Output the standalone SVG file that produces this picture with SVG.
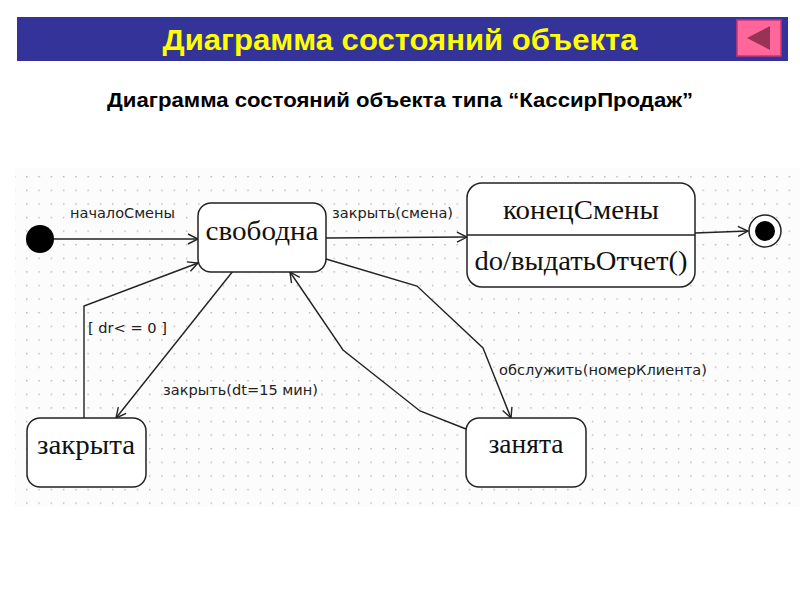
<svg xmlns="http://www.w3.org/2000/svg" width="800" height="600" viewBox="0 0 800 600">
  <defs>
    <pattern id="dots" x="26" y="176" width="12.3" height="13.6" patternUnits="userSpaceOnUse">
      <rect x="0" y="0" width="1.4" height="1.4" fill="#b4b4b4"/>
    </pattern>
    <marker id="arr" viewBox="0 0 12 12" refX="11" refY="6" markerWidth="12" markerHeight="12" markerUnits="userSpaceOnUse" orient="auto">
      <path d="M1,1 L11,6 L1,11" fill="none" stroke="#222" stroke-width="1.4"/>
    </marker>
    <style>
      .bar { fill: #333399; }
      .title { font-family: "Liberation Sans", Arial, sans-serif; font-weight: bold; font-size: 30px; fill: #ffff00; text-anchor: middle; }
      .sub { font-family: "Liberation Sans", Arial, sans-serif; font-weight: bold; font-size: 21px; fill: #000; text-anchor: middle; }
      .state { fill: #fff; stroke: #222; stroke-width: 1.5; }
      .sname { font-family: "Liberation Serif", "Times New Roman", serif; font-size: 28px; fill: #111; text-anchor: middle; }
      .lbl { font-family: "DejaVu Sans", "Liberation Sans", sans-serif; font-size: 14px; fill: #222; }
      .edge { fill: none; stroke: #222; stroke-width: 1.4; }
    </style>
  </defs>

  <rect x="0" y="0" width="800" height="600" fill="#fff"/>

  <!-- header -->
  <g id="header">
    <rect class="bar" x="17" y="17" width="771" height="44"/>
    <text class="title" x="400" y="50" textLength="475" lengthAdjust="spacingAndGlyphs">Диаграмма состояний объекта</text>
    <g id="back-button">
      <rect x="737" y="20" width="44" height="36" fill="#ff6699" stroke="#cc3377" stroke-width="1.5"/>
      <polygon points="747,38 770,26 770,50" fill="#993355"/>
    </g>
  </g>

  <text class="sub" x="400" y="107" textLength="586" lengthAdjust="spacingAndGlyphs">Диаграмма состояний объекта типа “КассирПродаж”</text>

  <!-- dotted background -->
  <rect x="15" y="168" width="785" height="339" fill="#fcfcfc"/>
  <rect x="15" y="168" width="785" height="339" fill="url(#dots)"/>

  <!-- connectors -->
  <g id="connectors">
    <g id="e-start">
      <path class="edge" d="M54,239 L198,239" marker-end="url(#arr)"/>
      <text class="lbl" x="70" y="218" textLength="105" lengthAdjust="spacingAndGlyphs">началоСмены</text>
    </g>
    <g id="e-close-shift">
      <path class="edge" d="M326,238 L467,237" marker-end="url(#arr)"/>
      <text class="lbl" x="332" y="218" textLength="121" lengthAdjust="spacingAndGlyphs">закрыть(смена)</text>
    </g>
    <g id="e-final">
      <path class="edge" d="M695,233 L748,231" marker-end="url(#arr)"/>
    </g>
    <g id="e-reopen">
      <path class="edge" d="M84,418 L84,306 L198,263" marker-end="url(#arr)"/>
      <text class="lbl" x="88" y="333" textLength="79" lengthAdjust="spacingAndGlyphs">[ dr&lt; = 0 ]</text>
    </g>
    <g id="e-close-timeout">
      <path class="edge" d="M233,271 L116,418" marker-end="url(#arr)"/>
      <text class="lbl" x="163" y="395" textLength="155" lengthAdjust="spacingAndGlyphs">закрыть(dt=15 мин)</text>
    </g>
    <g id="e-serve">
      <path class="edge" d="M326,259 L417,286 L483,348 L511,418" marker-end="url(#arr)"/>
      <text class="lbl" x="499" y="375" textLength="208" lengthAdjust="spacingAndGlyphs">обслужить(номерКлиента)</text>
    </g>
    <g id="e-done">
      <path class="edge" d="M466,429 L420,411 L343,350 L290,272" marker-end="url(#arr)"/>
    </g>
  </g>

  <!-- nodes -->
  <g id="initial">
    <circle cx="40" cy="239" r="14" fill="#000"/>
  </g>

  <g id="svobodna">
    <rect class="state" x="198" y="203" width="128" height="69" rx="13"/>
    <text class="sname" x="262" y="240" textLength="113" lengthAdjust="spacingAndGlyphs">свободна</text>
  </g>

  <g id="konecSmeny">
    <rect class="state" x="467" y="183" width="228" height="104" rx="15"/>
    <line x1="467" y1="235" x2="695" y2="235" stroke="#222" stroke-width="1.5"/>
    <text class="sname" x="581" y="219" textLength="156" lengthAdjust="spacingAndGlyphs">конецСмены</text>
    <text class="sname" x="581" y="270" textLength="213" lengthAdjust="spacingAndGlyphs">do/выдатьОтчет()</text>
  </g>

  <g id="final">
    <circle cx="765" cy="231" r="16" fill="#fff" stroke="#222" stroke-width="1.5"/>
    <circle cx="765" cy="231" r="10" fill="#000"/>
  </g>

  <g id="zakryta">
    <rect class="state" x="27" y="418" width="119" height="69" rx="13"/>
    <text class="sname" x="86" y="454" textLength="98" lengthAdjust="spacingAndGlyphs">закрыта</text>
  </g>

  <g id="zanyata">
    <rect class="state" x="466" y="418" width="120" height="69" rx="13"/>
    <text class="sname" x="526" y="453" textLength="75" lengthAdjust="spacingAndGlyphs">занята</text>
  </g>
</svg>
